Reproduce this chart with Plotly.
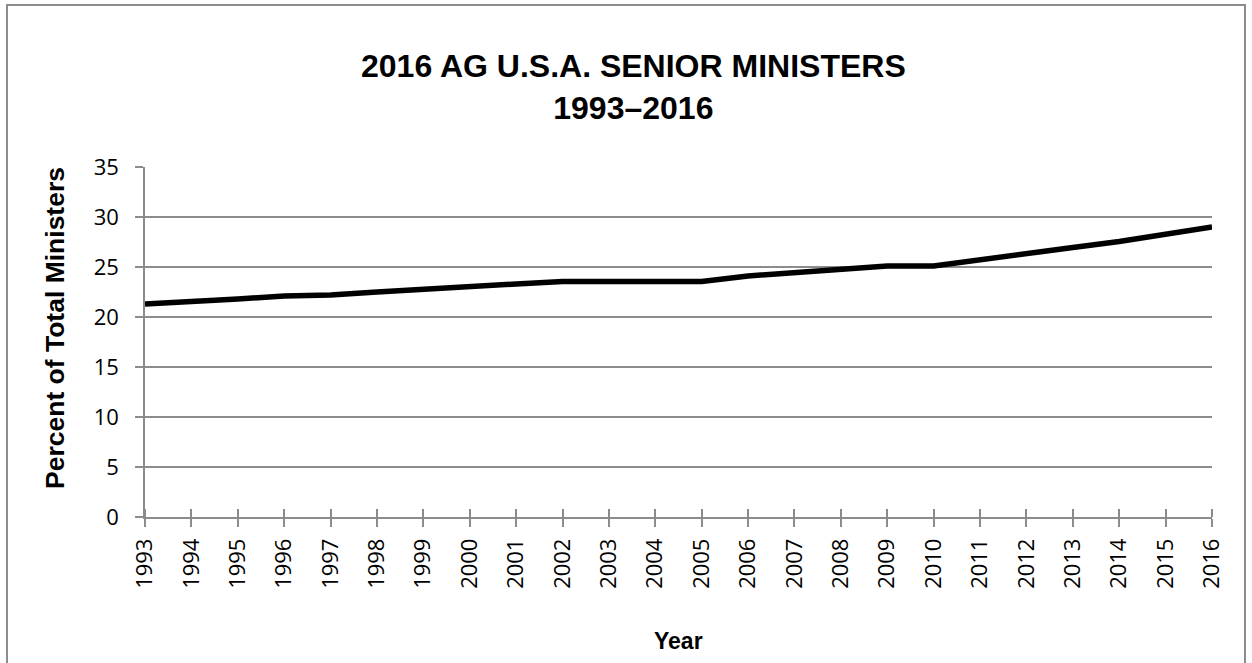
import plotly.graph_objects as go

years = list(range(1993, 2017))
percent = [21.3, 21.5, 21.8, 22.1, 22.2, 22.5, 22.8, 23.0, 23.3, 23.55,
           23.55, 23.55, 23.55, 24.1, 24.45, 24.85, 25.1, 25.1, 25.75, 26.35,
           26.95, 27.55, 28.3, 29.0]
y_ticks = [0, 5, 10, 15, 20, 25, 30, 35]
title_text = "2016 AG U.S.A. SENIOR MINISTERS<br>1993\u20132016"
x_title = "Year"
y_title = "Percent of Total Ministers"

W, H = 1252, 663
L, R, T, B = 145, 40, 167, 146
pw, ph = W - L - R, H - T - B

def px_x(px):
    return (px - L) / pw

def px_y(py):
    return (H - B - py) / ph

grid = "#8c8c8c"
tickfont = dict(family="Open Sans, Liberation Sans, sans-serif", size=22, color="#000000")

fig = go.Figure()
fig.add_trace(go.Scatter(
    x=years, y=percent, mode="lines",
    line=dict(color="#000000", width=5.5),
    hoverinfo="x+y", showlegend=False,
))

fig.update_layout(
    width=W, height=H,
    margin=dict(l=L, r=R, t=T, b=B),
    paper_bgcolor="#ffffff", plot_bgcolor="#ffffff",
    xaxis=dict(
        range=[1993, 2016], tickmode="array", tickvals=years,
        ticktext=[str(y) for y in years], tickangle=-90,
        tickfont=tickfont, showgrid=False, zeroline=False,
        showline=True, linecolor=grid, linewidth=1.5,
        ticks="outside", ticklen=8, tickcolor=grid, tickwidth=1.5,
        minor=dict(ticks="inside", tickvals=years, ticklen=8,
                   tickcolor=grid, tickwidth=1.5, showgrid=False),
        ticklabelstandoff=3,
    ),
    yaxis=dict(
        range=[0, 35], tickmode="array", tickvals=y_ticks,
        tickfont=tickfont, showgrid=True, gridcolor=grid, gridwidth=1.5,
        zeroline=False, showline=True, linecolor=grid, linewidth=1.5,
        ticks="outside", ticklen=8, tickcolor=grid, tickwidth=1.5,
        ticklabelstandoff=12,
    ),
    annotations=[
        dict(text=title_text, xref="paper", yref="paper",
             x=px_x(633), y=px_y(87), xanchor="center", yanchor="middle",
             showarrow=False,
             font=dict(family="Liberation Sans Narrow, Arial Narrow, Liberation Sans, sans-serif",
                       size=32, color="#000000", weight=700)),
        dict(text=y_title, xref="paper", yref="paper",
             x=px_x(55), y=px_y(328), xanchor="center", yanchor="middle",
             textangle=-90, showarrow=False,
             font=dict(family="Liberation Sans, Arial, sans-serif", size=26.5,
                       color="#000000", weight=700)),
        dict(text=x_title, xref="paper", yref="paper",
             x=px_x(678), y=px_y(641), xanchor="center", yanchor="middle",
             showarrow=False,
             font=dict(family="Liberation Sans, Arial, sans-serif", size=23,
                       color="#000000", weight=700)),
    ],
    shapes=[
        dict(type="rect", xref="paper", yref="paper",
             x0=px_x(7), x1=px_x(1245), y0=px_y(700), y1=px_y(5),
             line=dict(color="#8c8c8c", width=2), fillcolor="rgba(0,0,0,0)",
             layer="below"),
    ],
)

fig.write_html(
    "out.html",
    config={"displayModeBar": False},
    post_script="document.body.style.margin='0';document.body.style.overflow='hidden';",
)
